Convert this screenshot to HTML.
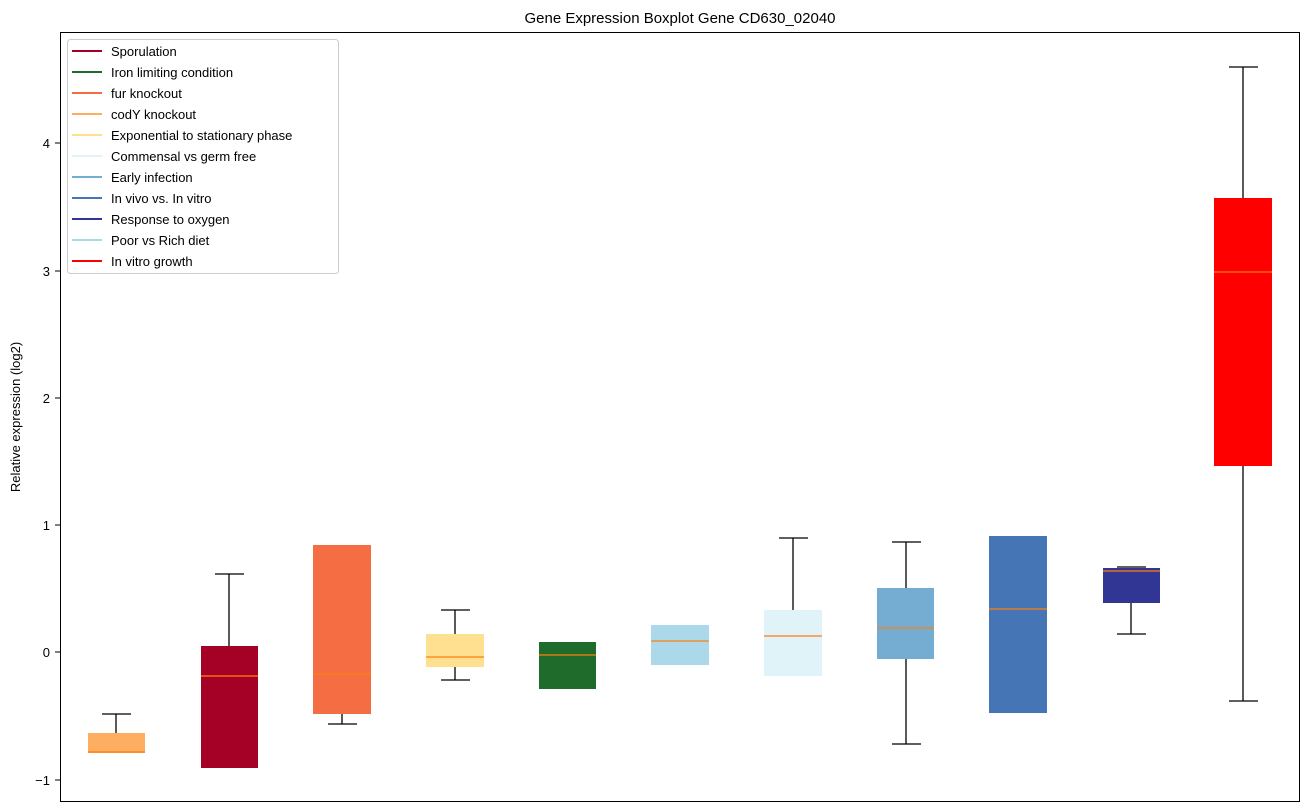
<!DOCTYPE html>
<html><head><style>body{margin:0;background:#fff}svg{display:block}text{font-family:"Liberation Sans",sans-serif}</style></head>
<body>
<svg width="1309" height="812" viewBox="0 0 1309 812" xmlns="http://www.w3.org/2000/svg">
<rect width="1309" height="812" fill="#fff"/>
<text x="680" y="23" font-size="15" text-anchor="middle">Gene Expression Boxplot Gene CD630_02040</text>
<text transform="translate(20,417) rotate(-90)" font-size="13" text-anchor="middle">Relative expression (log2)</text>
<g font-size="13" text-anchor="end">
<line x1="55" x2="60" y1="143" y2="143" stroke="#000"/><text x="50" y="148">4</text>
<line x1="55" x2="60" y1="271" y2="271" stroke="#000"/><text x="50" y="276">3</text>
<line x1="55" x2="60" y1="398" y2="398" stroke="#000"/><text x="50" y="403">2</text>
<line x1="55" x2="60" y1="525" y2="525" stroke="#000"/><text x="50" y="530">1</text>
<line x1="55" x2="60" y1="652" y2="652" stroke="#000"/><text x="50" y="657">0</text>
<line x1="55" x2="60" y1="780" y2="780" stroke="#000"/><text x="50" y="785">−1</text>
</g>
<g stroke="#000" stroke-width="1.3">
<line x1="116" x2="116" y1="714" y2="733"/><line x1="102" x2="131" y1="714" y2="714"/>
<line x1="229" x2="229" y1="574" y2="646"/><line x1="215" x2="244" y1="574" y2="574"/>
<line x1="342" x2="342" y1="714" y2="724"/><line x1="328" x2="357" y1="724" y2="724"/>
<line x1="455" x2="455" y1="610" y2="680"/><line x1="441" x2="470" y1="610" y2="610"/><line x1="441" x2="470" y1="680" y2="680"/>
<line x1="793" x2="793" y1="538" y2="610"/><line x1="779" x2="808" y1="538" y2="538"/>
<line x1="906" x2="906" y1="542" y2="744"/><line x1="892" x2="921" y1="542" y2="542"/><line x1="892" x2="921" y1="744" y2="744"/>
<line x1="1131" x2="1131" y1="603" y2="634"/><line x1="1117" x2="1146" y1="567" y2="567"/><line x1="1117" x2="1146" y1="634" y2="634"/>
<line x1="1243" x2="1243" y1="67" y2="701"/><line x1="1229" x2="1258" y1="67" y2="67"/><line x1="1229" x2="1258" y1="701" y2="701"/>
</g>
<g>
<rect x="88" y="733" width="57" height="20" fill="#fdae61"/>
<rect x="201" y="646" width="57" height="122" fill="#a50026"/>
<rect x="313" y="545" width="58" height="169" fill="#f46d43"/>
<rect x="426" y="634" width="58" height="33" fill="#fee090"/>
<rect x="539" y="642" width="57" height="47" fill="#1f6b2c"/>
<rect x="651" y="625" width="58" height="40" fill="#abd9e9"/>
<rect x="764" y="610" width="58" height="66" fill="#e0f3f8"/>
<rect x="877" y="588" width="57" height="71" fill="#74add1"/>
<rect x="989" y="536" width="58" height="177" fill="#4575b4"/>
<rect x="1103" y="568" width="57" height="35" fill="#313695"/>
<rect x="1214" y="198" width="58" height="268" fill="#ff0000"/>
</g>
<g stroke="#ff7f0e" stroke-width="1.2">
<line x1="88" x2="145" y1="752" y2="752"/>
<line x1="201" x2="258" y1="676" y2="676"/>
<line x1="313" x2="371" y1="674" y2="674"/>
<line x1="426" x2="484" y1="657" y2="657"/>
<line x1="539" x2="596" y1="655" y2="655"/>
<line x1="651" x2="709" y1="641" y2="641"/>
<line x1="764" x2="822" y1="636" y2="636"/>
<line x1="877" x2="934" y1="628" y2="628"/>
<line x1="989" x2="1047" y1="609" y2="609"/>
<line x1="1103" x2="1160" y1="571" y2="571"/>
<line x1="1214" x2="1272" y1="272" y2="272"/>
</g>
<rect x="60.5" y="32.5" width="1239" height="769" fill="none" stroke="#000"/>
<rect x="67.5" y="39.5" width="271" height="234" rx="3" fill="#fff" fill-opacity="0.8" stroke="#ccc"/>
<g stroke-width="2">
<line x1="72" x2="102" y1="51" y2="51" stroke="#a50026"/>
<line x1="72" x2="102" y1="72" y2="72" stroke="#1f6b2c"/>
<line x1="72" x2="102" y1="93" y2="93" stroke="#f46d43"/>
<line x1="72" x2="102" y1="114" y2="114" stroke="#fdae61"/>
<line x1="72" x2="102" y1="135" y2="135" stroke="#fee090"/>
<line x1="72" x2="102" y1="156" y2="156" stroke="#e0f3f8"/>
<line x1="72" x2="102" y1="177" y2="177" stroke="#74add1"/>
<line x1="72" x2="102" y1="198" y2="198" stroke="#4575b4"/>
<line x1="72" x2="102" y1="219" y2="219" stroke="#313695"/>
<line x1="72" x2="102" y1="240" y2="240" stroke="#abd9e9"/>
<line x1="72" x2="102" y1="261" y2="261" stroke="#ff0000"/>
</g>
<g font-size="13">
<text x="111" y="56">Sporulation</text>
<text x="111" y="77">Iron limiting condition</text>
<text x="111" y="98">fur knockout</text>
<text x="111" y="119">codY knockout</text>
<text x="111" y="140">Exponential to stationary phase</text>
<text x="111" y="161">Commensal vs germ free</text>
<text x="111" y="182">Early infection</text>
<text x="111" y="203">In vivo vs. In vitro</text>
<text x="111" y="224">Response to oxygen</text>
<text x="111" y="245">Poor vs Rich diet</text>
<text x="111" y="266">In vitro growth</text>
</g>
</svg>
</body></html>
